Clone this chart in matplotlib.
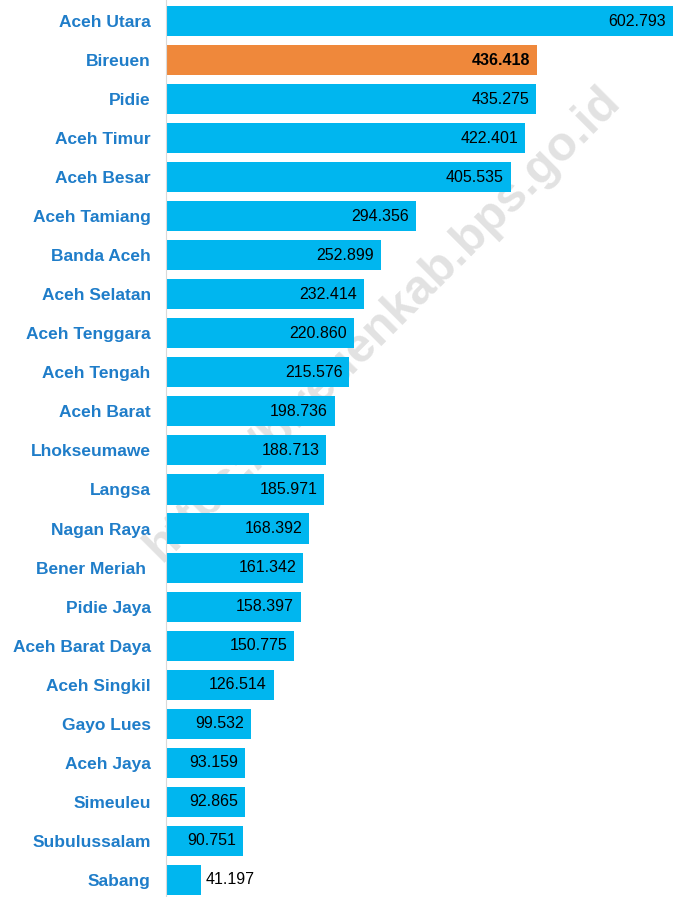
import matplotlib.pyplot as plt

# data, top to bottom
regions = ['Aceh Utara', 'Bireuen', 'Pidie', 'Aceh Timur', 'Aceh Besar', 'Aceh Tamiang',
           'Banda Aceh', 'Aceh Selatan', 'Aceh Tenggara', 'Aceh Tengah', 'Aceh Barat',
           'Lhokseumawe', 'Langsa', 'Nagan Raya', 'Bener Meriah ', 'Pidie Jaya',
           'Aceh Barat Daya', 'Aceh Singkil', 'Gayo Lues', 'Aceh Jaya', 'Simeuleu',
           'Subulussalam', 'Sabang']
values = [602.793, 436.418, 435.275, 422.401, 405.535, 294.356, 252.899, 232.414,
          220.860, 215.576, 198.736, 188.713, 185.971, 168.392, 161.342, 158.397,
          150.775, 126.514, 99.532, 93.159, 92.865, 90.751, 41.197]
highlight = 'Bireuen'

plt.rcParams['font.family'] = ['Liberation Sans', 'DejaVu Sans']

blue = '#00B6EF'
orange = '#EF883B'
lblue = '#1F7DC9'

fig = plt.figure(figsize=(6.73, 8.97), dpi=100)
ax = fig.add_axes([166 / 673, 0, 1 - 166 / 673, 1])

n = len(values)
ys = list(range(n))
colors = [orange if r == highlight else blue for r in regions]
ax.barh(ys, values, height=0.77, color=colors, zorder=2)

xmax = 596.5
ax.set_xlim(0, xmax)
ax.set_ylim(n - 1 + 0.44, -0.54)

for y, v, r in zip(ys, values, regions):
    txt = f'{v:.3f}'
    bold = 'bold' if r == highlight else 'normal'
    if v < 60:
        ax.text(v + 6, y, txt, ha='left', va='center', fontsize=11.5, color='black', zorder=3)
    else:
        ax.text(min(v, xmax) - 8, y, txt, ha='right', va='center', fontsize=11.5,
                color='black', fontweight=bold, zorder=3)

ax.set_yticks(ys)
ax.set_yticklabels(regions, fontsize=12.5, fontweight='bold', color=lblue)
ax.tick_params(axis='y', length=0, pad=11)
ax.set_xticks([])
for s in ['top', 'right', 'bottom']:
    ax.spines[s].set_visible(False)
ax.spines['left'].set_color('#d9d9d9')

# watermark behind the bars
ax.text(383 / 673, 1 - 324 / 897, 'https://bireuenkab.bps.go.id', rotation=45,
        ha='center', va='center', fontsize=35, fontweight='bold', color='#e2e2e2',
        transform=fig.transFigure, zorder=1, clip_on=False)

fig.savefig('out.png', dpi=100)
